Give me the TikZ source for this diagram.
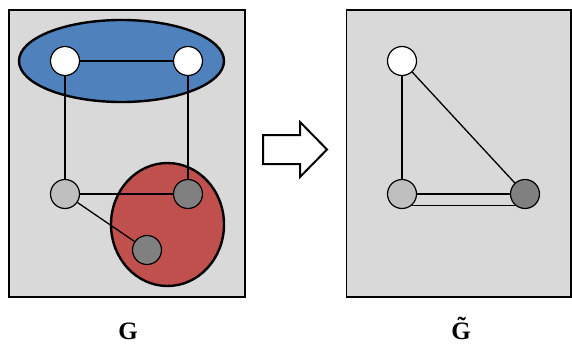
\documentclass[tikz,border=0pt]{standalone}
\usepackage{fontspec}
\setmainfont{Liberation Serif}
\pgfdeclarelayer{bg}
\pgfdeclarelayer{edges}
\pgfsetlayers{bg,edges,main}
\definecolor{panel}{HTML}{D9D9D9}
\definecolor{blueset}{HTML}{4F81BD}
\definecolor{redset}{HTML}{C0504D}
\definecolor{lgray}{HTML}{BFBFBF}
\definecolor{dgray}{HTML}{808080}
\tikzset{
  panelbox/.style={draw=black, fill=panel, line width=1.5pt},
  setell/.style={draw=black, line width=2.4pt},
  vtx/.style={circle, draw=black, line width=1.2pt, minimum size=29pt, inner sep=0pt},
  wv/.style={vtx, fill=white},
  lv/.style={vtx, fill=lgray},
  dv/.style={vtx, fill=dgray},
  edge/.style={draw=black, line width=1.3pt},
  lbl/.style={font=\fontsize{25}{27}\selectfont\bfseries, inner sep=0pt, anchor=base}
}
\begin{document}
\begin{tikzpicture}[x=1pt,y=-1pt]
\useasboundingbox (0,0) rectangle (572,345);
\begin{pgfonlayer}{bg}
\draw[panelbox] (9,10) rectangle (245,297);
\draw[panelbox] (346.5,10) rectangle (571,297);
\draw[setell, fill=blueset] (121.5,61) ellipse [x radius=102.5pt, y radius=41pt];
\draw[setell, fill=redset] (167.5,224.5) ellipse [x radius=56.5pt, y radius=61.5pt];
\end{pgfonlayer}
% left graph
\node[wv] (a) at (65,61) {};
\node[wv] (b) at (188,61) {};
\node[lv] (c) at (65,194) {};
\node[dv] (d) at (188,194) {};
\node[dv] (e) at (147,250) {};
% right graph
\node[wv] (ra) at (402,61) {};
\node[lv] (rc) at (402,194) {};
\node[dv] (rd) at (525,194) {};
\begin{pgfonlayer}{edges}
\draw[edge] (a) -- (b);
\draw[edge] (a) -- (c);
\draw[edge] (b) -- (d);
\draw[edge] (c) -- (d);
\draw[edge] (c) -- (e);
\draw[edge] (ra) -- (rc);
\draw[edge] (ra) -- (rd);
\draw[edge] (rc.center) -- (rd.center);
\draw[edge] ([yshift=-11.5pt]rc.center) -- ([yshift=-11.5pt]rd.center);
\end{pgfonlayer}
% arrow
\draw[line width=2pt, fill=white, line join=miter] (263,135) -- (300,135) -- (300,122) -- (327,149.5) -- (300,177) -- (300,164) -- (263,164) -- cycle;
% labels
\node[lbl] (gl) at (128,339) {G};
\node[lbl] (gr) at (461,339) {\~G};
\end{tikzpicture}
\end{document}
